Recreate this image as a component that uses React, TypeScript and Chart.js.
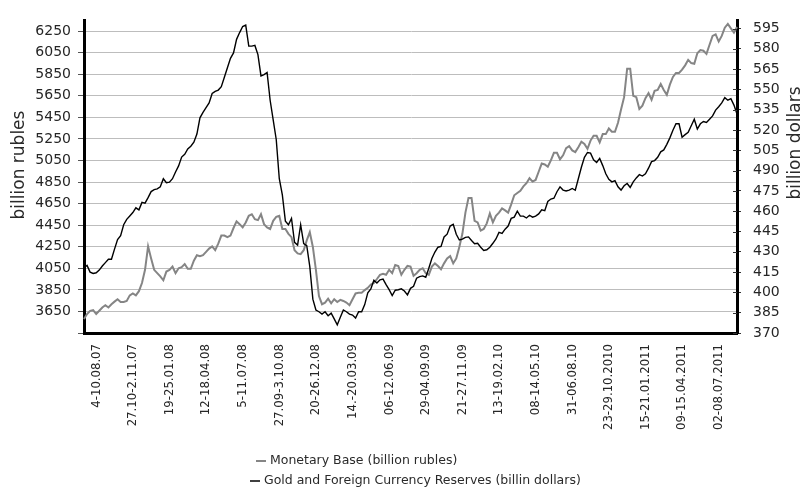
import React, { useEffect, useRef } from "react";
import { Chart, registerables } from "chart.js";

Chart.register(...registerables);

// X-axis tick labels (one every 12 weeks, starting at the 5th weekly point)
const tickLabels = [
  "4-10.08.07", "27.10-2.11.07", "19-25.01.08", "12-18.04.08", "5-11.07.08",
  "27.09-3.10.08", "20-26.12.08", "14.-20.03.09", "06-12.06.09", "29-04.09.09",
  "21-27.11.09", "13-19.02.10", "08-14.05.10", "31-06.08.10", "23-29.10.2010",
  "15-21.01.2011", "09-15.04.2011", "02-08.07.2011",
];
const FIRST_TICK = 4;
const TICK_STEP = 12;

// Monetary base, billion rubles (weekly)
const monetaryBase = [
  3580, 3626, 3656, 3662, 3626, 3656, 3687, 3708, 3687, 3717,
  3741, 3763, 3738, 3738, 3747, 3799, 3817, 3799, 3838, 3914,
  4036, 4254, 4142, 4036, 4005, 3975, 3939, 4020, 4036, 4066,
  4005, 4051, 4060, 4090, 4045, 4045, 4121, 4172, 4163, 4172,
  4203, 4233, 4254, 4218, 4279, 4354, 4354, 4339, 4354, 4424,
  4485, 4460, 4430, 4475, 4537, 4552, 4506, 4497, 4552, 4460,
  4430, 4415, 4491, 4527, 4537, 4415, 4415, 4370, 4339, 4218,
  4188, 4181, 4218, 4309, 4385, 4248, 4036, 3793, 3717, 3732,
  3769, 3726, 3763, 3738, 3757, 3747, 3732, 3708, 3763, 3817,
  3823, 3823, 3848, 3869, 3899, 3914, 3951, 3990, 3999, 3990,
  4036, 4005, 4081, 4072, 3990, 4036, 4072, 4066, 3981, 4005,
  4036, 4051, 4005, 3990, 4066, 4096, 4072, 4042, 4096, 4142,
  4163, 4096, 4142, 4248, 4370, 4567, 4703, 4703, 4491, 4476,
  4400, 4415, 4467, 4558, 4476, 4537, 4567, 4606, 4588, 4567,
  4643, 4728, 4749, 4770, 4810, 4840, 4886, 4855, 4870, 4946,
  5022, 5013, 4992, 5052, 5122, 5122, 5062, 5098, 5165, 5183,
  5144, 5128, 5174, 5225, 5204, 5159, 5235, 5280, 5280, 5219,
  5295, 5295, 5347, 5317, 5317, 5401, 5523, 5638, 5902, 5902,
  5650, 5638, 5529, 5559, 5629, 5675, 5614, 5696, 5705, 5760,
  5705, 5660, 5754, 5826, 5863, 5863, 5893, 5933, 5984, 5954,
  5948, 6045, 6075, 6069, 6039, 6124, 6206, 6221, 6154, 6206,
  6282, 6318, 6276, 6236, 6288,
];

// Gold and foreign currency reserves, billion dollars (weekly)
const reserves = [
  418, 420, 415, 414, 414.5, 416.5, 419.5, 422, 424.5, 424.5,
  432, 439, 442, 450, 454, 456.5, 459, 462.5, 461, 466.5,
  466, 470, 474.5, 476, 476.5, 478, 484, 481, 481.5, 484,
  489, 493.5, 500, 502, 506, 508, 511, 517, 529, 533,
  536.5, 540, 547, 548.5, 549.5, 552, 559, 566, 573, 577,
  587, 592, 596.5, 597.5, 582, 582, 582.5, 575.7, 560, 561,
  562.5, 542, 527.5, 513, 484, 472, 452.7, 450, 454.7, 437,
  435, 450, 436, 434.6, 419, 395, 387, 385.7, 384, 385.7,
  382.8, 384.7, 380.4, 376, 381.6, 387, 385.7, 384, 383.3, 381,
  385.7, 385.7, 391, 399.7, 402.6, 409, 407, 409.3, 409.8, 405.7,
  402, 397.7, 401.6, 402, 402.6, 401, 398.2, 403, 404.5, 410.5,
  411.7, 412.2, 411.2, 417.8, 425, 429.8, 433.4, 434, 441, 443,
  449, 450.3, 443, 438.7, 439.4, 440.7, 441, 438.3, 436, 436.3,
  433.4, 431, 431.5, 433.4, 436.3, 439.5, 444.3, 443.6, 446.7, 449,
  454.7, 455.6, 460, 456.4, 456.4, 455, 457, 455.6, 456.4, 458,
  461, 460.4, 467.2, 469, 469.6, 474.4, 478, 475.6, 475, 475.6,
  476.8, 475.5, 484, 492.5, 499.8, 503.4, 502.9, 498, 496, 499,
  493.7, 487.7, 483.6, 481.7, 482.6, 478, 475.6, 478.8, 480.5, 477.6,
  481.7, 484.6, 487, 486, 487.7, 491.8, 496.6, 497.4, 499.8, 503.9,
  505.3, 509.4, 514.2, 519.8, 524.6, 524.6, 514.7, 516.6, 518.3, 523.2,
  528, 520.7, 524.6, 526.3, 525.6, 528, 530.4, 534.7, 537.2, 540,
  543.9, 542, 543.2, 538.4, 531.8,
];

const leftTicks = [3450, 3650, 3850, 4050, 4250, 4450, 4650, 4850, 5050, 5250, 5450, 5650, 5850, 6050, 6250];
const rightTicks = [370, 385, 400, 415, 430, 445, 460, 475, 490, 505, 520, 535, 550, 565, 580, 595];

const leftTitle = "billion rubles";
const rightTitle = "billion dollars";
const seriesNames = [
  "Monetary Base (billion rubles)",
  "Gold and Foreign Currency Reserves (billin dollars)",
];
const seriesColors = ["#858585", "#000000"];

const categories = monetaryBase.map((_, i) => {
  const k = (i - FIRST_TICK) / TICK_STEP;
  return Number.isInteger(k) && k >= 0 && k < tickLabels.length ? tickLabels[k] : "";
});

const FONT = "'DejaVu Sans', sans-serif";
const XFONT = "'Liberation Sans Narrow', 'DejaVu Sans Condensed', 'Liberation Sans', sans-serif";

const annotate = {
  id: "annotate",
  afterDraw(chart: any) {
    const ctx = chart.ctx as CanvasRenderingContext2D;
    ctx.save();

    // inner halves of the right-axis tick marks (cross ticks)
    const r = chart.scales.y1;
    const area = chart.chartArea;
    ctx.strokeStyle = "#333";
    ctx.lineWidth = 1;
    rightTicks.forEach((v) => {
      const y = Math.round(r.getPixelForValue(v)) + 0.5;
      ctx.beginPath();
      ctx.moveTo(area.right - 4, y);
      ctx.lineTo(area.right, y);
      ctx.stroke();
    });

    ctx.fillStyle = "#2a2a2a";
    ctx.textAlign = "center";
    ctx.textBaseline = "middle";
    ctx.font = `17px ${FONT}`;
    ctx.save();
    ctx.translate(20, 165);
    ctx.rotate(-Math.PI / 2);
    ctx.fillText(leftTitle, 0, 0);
    ctx.restore();
    ctx.save();
    ctx.translate(796, 143);
    ctx.rotate(-Math.PI / 2);
    ctx.fillText(rightTitle, 0, 0);
    ctx.restore();

    // legend
    const rows = [
      { x: 256, y: 461 },
      { x: 250, y: 481 },
    ];
    ctx.font = `12.5px ${FONT}`;
    ctx.textAlign = "left";
    rows.forEach((row, i) => {
      ctx.strokeStyle = seriesColors[i];
      ctx.lineWidth = i === 0 ? 2 : 1.5;
      ctx.beginPath();
      ctx.moveTo(row.x, row.y);
      ctx.lineTo(row.x + 10, row.y);
      ctx.stroke();
      ctx.fillStyle = "#2a2a2a";
      ctx.fillText(seriesNames[i], row.x + 14, row.y);
    });
    ctx.restore();
  },
};

export default function App() {
  const ref = useRef<HTMLCanvasElement>(null);
  useEffect(() => {
    if (!ref.current) return;
    const chart = new Chart(ref.current, {
      type: "line",
      data: {
        labels: categories,
        datasets: [
          {
            label: seriesNames[0],
            data: monetaryBase,
            yAxisID: "y",
            borderColor: seriesColors[0],
            borderWidth: 2,
            pointRadius: 0,
            tension: 0,
            order: 1,
          },
          {
            label: seriesNames[1],
            data: reserves,
            yAxisID: "y1",
            borderColor: seriesColors[1],
            borderWidth: 1.4,
            pointRadius: 0,
            tension: 0,
            order: 0,
          },
        ],
      },
      options: {
        animation: false,
        responsive: true,
        maintainAspectRatio: false,
        events: [],
        layout: { padding: { top: 15, left: 0, right: 0, bottom: 0 } },
        plugins: { legend: { display: false }, tooltip: { enabled: false } },
        scales: {
          x: {
            type: "category",
            grid: { display: false, drawTicks: true, tickLength: 8 },
            border: { display: true, color: "#000", width: 3 },
            ticks: {
              autoSkip: false,
              minRotation: 90,
              maxRotation: 90,
              padding: 3,
              color: "#262626",
              font: { size: 13, family: XFONT },
            },
            afterFit: (s: any) => {
              s.height = 490 - 333;
            },
          },
          y: {
            position: "left",
            min: 3450,
            max: 6350,
            afterBuildTicks: (s: any) => {
              s.ticks = leftTicks.map((v) => ({ value: v }));
            },
            afterFit: (s: any) => {
              s.width = 84;
            },
            grid: { color: "#bdbdbd", lineWidth: 1, tickLength: 6, tickColor: "#555", drawTicks: true },
            border: { color: "#000", width: 3 },
            ticks: {
              padding: 7,
              color: "#262626",
              font: { size: 14, family: FONT },
              callback: (v: any) => (v === 3450 ? "" : String(v)),
            },
          },
          y1: {
            position: "right",
            min: 370,
            max: 601,
            afterBuildTicks: (s: any) => {
              s.ticks = rightTicks.map((v) => ({ value: v }));
            },
            afterFit: (s: any) => {
              s.width = 803 - 737;
            },
            grid: { drawOnChartArea: false, tickLength: 4, tickColor: "#333" },
            border: { color: "#000", width: 3 },
            ticks: {
              padding: 12,
              color: "#262626",
              font: { size: 14, family: FONT },
              callback: (v: any) => String(v),
            },
          },
        },
      },
      plugins: [annotate],
    });
    return () => chart.destroy();
  }, []);
  return (
    <div style={{ position: "fixed", left: 0, top: 0, width: 803, height: 490 }}>
      <canvas ref={ref} />
    </div>
  );
}
